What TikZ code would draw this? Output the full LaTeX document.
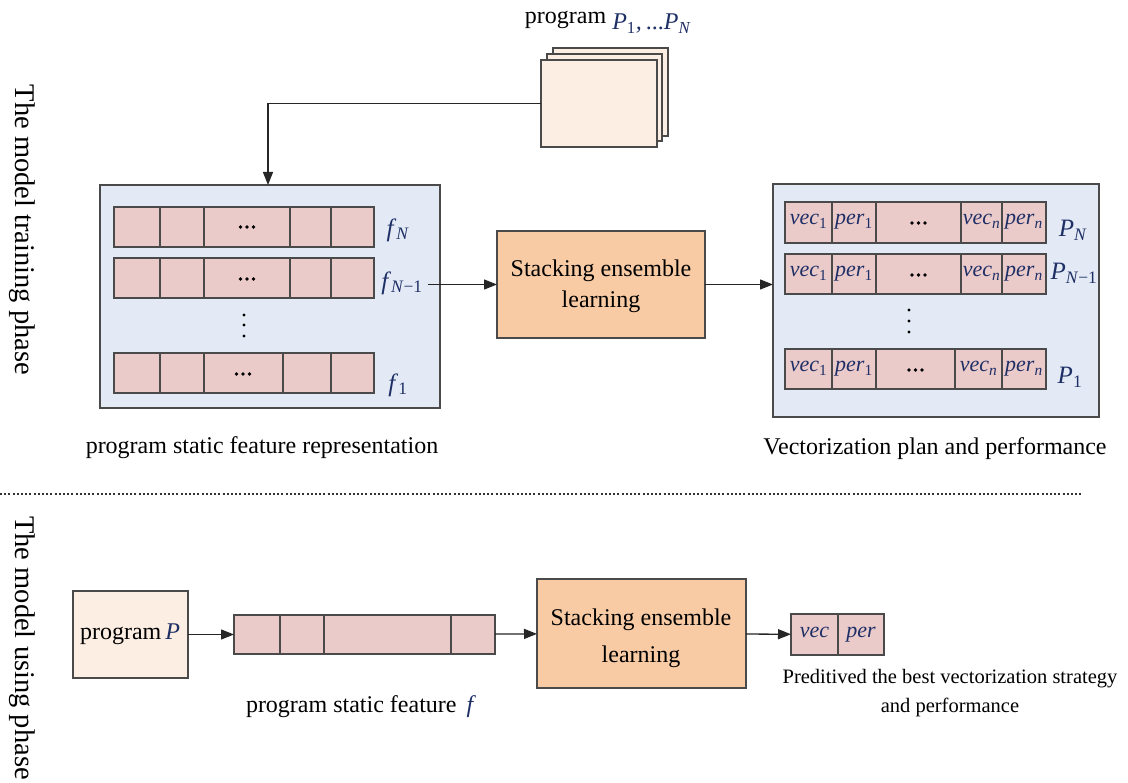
\documentclass[tikz,border=0pt]{standalone}
\usepackage{fontspec}
\setmainfont{Liberation Serif}
\usetikzlibrary{arrows.meta}

\definecolor{panelfill}{HTML}{E3EAF5}
\definecolor{cellfill}{HTML}{EBCACA}
\definecolor{learnfill}{HTML}{F8CBA5}
\definecolor{progfill}{HTML}{FCEEE3}
\definecolor{edgecol}{HTML}{4A4A4A}
\definecolor{mathcol}{HTML}{1E2F66}

% italic symbol with optional subscript
\newcommand\sym[1]{\textcolor{mathcol}{\textit{#1}}}
\newcommand\symsub[2]{\textcolor{mathcol}{\textit{#1}\textsubscript{#2}}}

\tikzset{
  panel/.style={draw=edgecol, line width=1.6pt, fill=panelfill, inner sep=0pt, outer sep=0pt, anchor=north west},
  cellrow/.style={draw=edgecol, line width=1.4pt, fill=cellfill, inner sep=0pt, outer sep=0pt, anchor=north west},
  cellline/.style={draw=edgecol, line width=1.4pt},
  learnbox/.style={draw=edgecol, line width=1.4pt, fill=learnfill, inner sep=0pt, outer sep=0pt, anchor=north west, align=center, font=\fontsize{24}{36}\selectfont},
  progbox/.style={draw=edgecol, line width=1.4pt, fill=progfill, inner sep=0pt, outer sep=0pt, anchor=north west},
  celltext/.style={inner sep=0pt, text height=11pt, text depth=5pt, font=\fontsize{22}{24}\selectfont},
  rowlabel/.style={inner sep=0pt, font=\fontsize{25}{28}\selectfont},
  caption/.style={inner sep=0pt, font=\fontsize{24}{28}\selectfont},
  sidelabel/.style={inner sep=0pt, rotate=-90, font=\fontsize{28.5}{32}\selectfont},
  flow/.style={draw=black!85, line width=1.3pt, -{Triangle[length=13pt,width=10pt]}},
  vdot/.style={fill=black, draw=none},
}

% box from corner (x1,y1) to corner (x2,y2), in the picture's units
\newcommand\boxnode[6]{\node[#1, minimum width={#5pt-#3pt}, minimum height={#6pt-#4pt}] (#2) at (#3,#4) {};}
% three bold dots in a row, centred at (x,y)
\newcommand\hdots[2]{\foreach \k in {-6.5,0,6.5} \fill[vdot] (#1+\k,#2) circle (1.9);}

\begin{document}
\begin{tikzpicture}[x=1pt,y=-1pt]
\useasboundingbox (0,0) rectangle (1128,783);
\fill[white] (0,0) rectangle (1128,783);

% ---------- phase labels and separator ----------
\node[sidelabel] (trainlbl) at (22,230) {The model training phase};
\node[sidelabel] (uselbl) at (22,648) {The model using phase};
\draw[line width=1.3pt, black!80, dash pattern=on 2pt off 2.2pt] (0,494) -- (1083,494);

% ---------- training phase: program stack ----------
\boxnode{progbox}{progC}{553}{48}{668}{136}
\boxnode{progbox}{progB}{547}{54}{662}{141}
\boxnode{progbox}{progA}{541}{60}{657}{147}
\node[caption, anchor=base] (proglbl) at (608,24) {program \raisebox{-6pt}{\symsub{P}{1}\sym{,}\,\textcolor{mathcol}{...}\symsub{P}{\textit{N}}}};

% ---------- training phase: static feature panel ----------
\boxnode{panel}{featpanel}{100}{185}{440}{408}
\coordinate (featin) at (268,185);

\boxnode{cellrow}{frowN}{114}{207}{374}{247}
\foreach \d in {160,204,290,331} \draw[cellline] (\d,207) -- (\d,247);
\hdots{247}{227}

\boxnode{cellrow}{frowNm}{114}{258}{374}{298}
\foreach \d in {160,204,290,331} \draw[cellline] (\d,258) -- (\d,298);
\hdots{247}{279}

\boxnode{cellrow}{frowA}{114}{353}{374}{393}
\foreach \d in {160,204,283,331} \draw[cellline] (\d,353) -- (\d,393);
\hdots{243}{374}

\foreach \v in {315,325,336} \fill[vdot] (244,\v) circle (1.7);

\node[rowlabel] (lblfN) at (398,230) {\symsub{f}{\textit{N}}};
\node[rowlabel] (lblfNm) at (402,283) {\symsub{f}{\textit{N}−1}};
\node[rowlabel] (lblfA) at (398,385) {\symsub{f}{1}};

\node[caption, anchor=base] (featcap) at (262,454) {program static feature representation};

% ---------- training phase: learner ----------
\boxnode{learnbox}{learnA}{497}{231}{705}{338}
\node[inner sep=0pt, align=center, font=\fontsize{24}{31}\selectfont] (learnAtxt) at (601,286) {Stacking ensemble\\learning};

% ---------- training phase: plan/performance panel ----------
\boxnode{panel}{planpanel}{773}{184}{1099}{417}

\boxnode{cellrow}{prowN}{785}{202}{1046}{243}
\foreach \d in {832,876,961,1002} \draw[cellline] (\d,202) -- (\d,243);
\node[celltext] at (808.5,222) {\symsub{vec}{1}};
\node[celltext] at (854,222) {\symsub{per}{1}};
\hdots{918.5}{223}
\node[celltext] at (981.5,222) {\symsub{vec}{\textit{n}}};
\node[celltext] at (1024,222) {\symsub{per}{\textit{n}}};

\boxnode{cellrow}{prowNm}{785}{254}{1046}{294}
\foreach \d in {832,876,961,1002} \draw[cellline] (\d,254) -- (\d,294);
\node[celltext] at (808.5,274) {\symsub{vec}{1}};
\node[celltext] at (854,274) {\symsub{per}{1}};
\hdots{918.5}{275}
\node[celltext] at (981.5,274) {\symsub{vec}{\textit{n}}};
\node[celltext] at (1024,274) {\symsub{per}{\textit{n}}};

\boxnode{cellrow}{prowA}{785}{349}{1046}{389}
\foreach \d in {832,876,955,1002} \draw[cellline] (\d,349) -- (\d,389);
\node[celltext] at (808.5,369) {\symsub{vec}{1}};
\node[celltext] at (854,369) {\symsub{per}{1}};
\hdots{915.5}{370}
\node[celltext] at (978.5,369) {\symsub{vec}{\textit{n}}};
\node[celltext] at (1024,369) {\symsub{per}{\textit{n}}};

\foreach \v in {310,321,332} \fill[vdot] (909,\v) circle (1.7);

\node[rowlabel] (lblPN) at (1073,230) {\symsub{P}{\textit{N}}};
\node[rowlabel] (lblPNm) at (1074,273) {\symsub{P}{\textit{N}−1}};
\node[rowlabel] (lblPA) at (1070,377) {\symsub{P}{1}};

\node[caption, anchor=base] (plancap) at (935,455) {Vectorization plan and performance};

% ---------- training phase: connectors ----------
\draw[flow] (progA.west) -| (featin);
\draw[flow] (lblfNm.east |- learnA.west) ++(5,0) -- (learnA.west);
\draw[flow] (learnA.east) -- (learnA.east -| planpanel.west);

% ---------- using phase ----------
\boxnode{progbox}{progP}{73}{591}{188}{678}
\node[inner sep=0pt, font=\fontsize{24}{28}\selectfont] (progPtxt) at (130,634) {program\,\sym{P}};

\boxnode{cellrow}{fbar}{234}{615}{495}{654}
\foreach \d in {280,324,451} \draw[cellline] (\d,615) -- (\d,654);
\node[caption, anchor=base] (fcap) at (361,712) {program static feature\, \sym{f}};

\boxnode{learnbox}{learnB}{537}{579}{746}{688}
\node[inner sep=0pt, align=center, font=\fontsize{24}{37}\selectfont] (learnBtxt) at (641,638) {Stacking ensemble\\learning};

\boxnode{cellrow}{outvp}{791}{614}{884}{655}
\draw[cellline] (838,614) -- (838,655);
\node[celltext] at (814.5,634) {\sym{vec}};
\node[celltext] at (861,634) {\sym{per}};
\node[inner sep=0pt, align=center, font=\fontsize{20.5}{29}\selectfont] (outcap) at (950,693) {Preditived the best vectorization strategy\\and performance};

\draw[flow] (progP) -- (fbar);
\draw[flow] (fbar) -- (learnB);
\draw[flow] (learnB) -- (outvp);
\end{tikzpicture}
\end{document}
